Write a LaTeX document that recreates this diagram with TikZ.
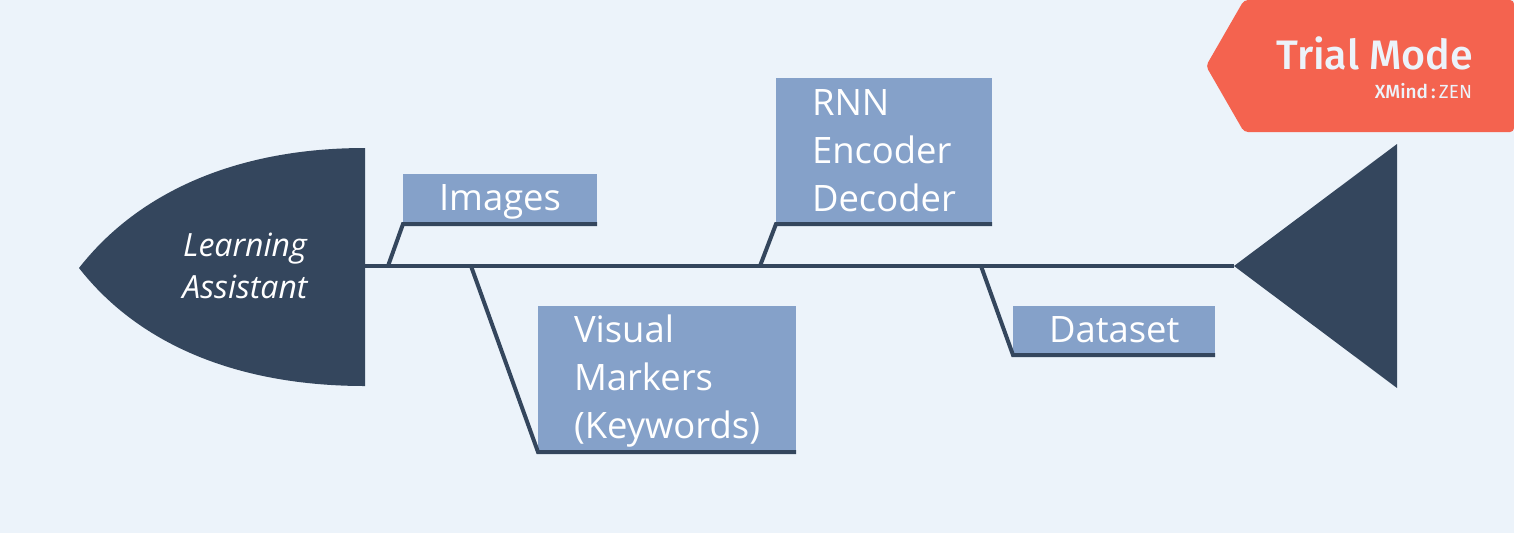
\documentclass[tikz,border=0pt]{standalone}
\usepackage{fontspec}
\setmainfont{Open Sans}
\newfontfamily\badgefont[BoldFont={Fira Sans Medium}]{Fira Sans}
\usetikzlibrary{positioning}
\definecolor{paper}{HTML}{ECF3FA}
\definecolor{fishdark}{HTML}{34465D}
\definecolor{topicblue}{HTML}{85A1C9}
\definecolor{badgered}{HTML}{F4634F}
\newcommand{\topicstrut}{\rule[-4pt]{0pt}{20pt}}
\begin{document}
\begin{tikzpicture}[x=0.5pt,y=-0.5pt,line width=2pt]
	\tikzstyle{topic}=[fill=topicblue,text=white,anchor=north west,inner xsep=18pt,inner ysep=0pt,outer sep=0pt,
		align=left,font=\fontsize{18.2}{24}\selectfont,
		execute at begin node=\topicstrut,execute at end node=\topicstrut]
	\tikzstyle{bone}=[draw=fishdark,line width=2pt,line join=miter]

	\useasboundingbox (0,0) rectangle (1514,532);
	\fill[paper] (-4,-4) rectangle (1518,536);

	\fill[fishdark] (79,268) .. controls (140,190) and (240,148) .. (365,148)
		-- (365,386) .. controls (240,386) and (140,346) .. (79,268) -- cycle;
	\fill[fishdark] (1234,266) -- (1397,144) -- (1397,388) -- cycle;

	\node[text=white,align=center,font=\fontsize{16}{21}\itshape\selectfont] (Head) at (245,266) {Learning\\Assistant};

	\node[topic,minimum width=97pt,minimum height=25pt,text width=61pt]   (Images)  at (403,174) {Images};
	\node[topic,minimum width=108pt,minimum height=73pt,text width=72pt]  (RNN)     at (776,78)  {RNN\\Encoder\\Decoder};
	\node[topic,minimum width=129pt,minimum height=73pt,text width=93pt]  (Visual)  at (538,306) {Visual\\Markers\\(Keywords)};
	\node[topic,minimum width=101pt,minimum height=24.5pt,text width=65pt] (Dataset) at (1013,306) {Dataset};

	\coordinate (J_0) at (365,266);
	\coordinate (J_1) at (388,266);
	\coordinate (J_2) at (471,266);
	\coordinate (J_3) at (760,266);
	\coordinate (J_4) at (981,266);
	\coordinate (J_5) at (1234,266);

	\draw[bone] (J_0) -- (J_5);
	\draw[bone] (J_1) -- (Images.south west) -- (Images.south east);
	\draw[bone] (J_2) -- (Visual.south west) -- (Visual.south east);
	\draw[bone] (J_3) -- (RNN.south west) -- (RNN.south east);
	\draw[bone] (J_4) -- (Dataset.south west) -- (Dataset.south east);

	\fill[badgered,rounded corners=2pt] (1206,66) -- (1244,0) -- (1514,0) -- (1514,132) -- (1244,132) -- cycle;
	\node[anchor=base east,inner sep=0pt,text=paper,font=\badgefont\fontsize{20.6}{24}\selectfont\bfseries] (Trial) at (1475,69) {Trial Mode};
	\node[anchor=base east,inner sep=0pt,text=paper,font=\badgefont\fontsize{9.5}{10}\selectfont] (Brand) at (1474,98) {\textbf{XMind}\,\textbf{:}\,ZEN};
\end{tikzpicture}
\end{document}
